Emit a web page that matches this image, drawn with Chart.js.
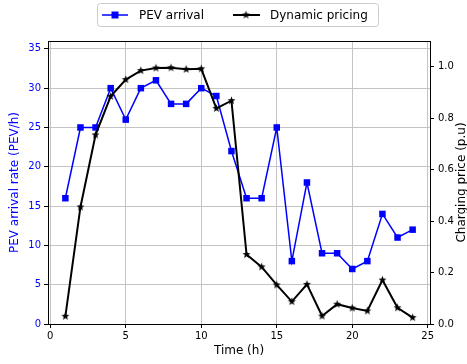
<!DOCTYPE html>
<html>
<head>
<meta charset="utf-8">
<script src="https://cdn.jsdelivr.net/npm/chart.js@4/dist/chart.umd.min.js"></script>
<style>
  html, body { margin: 0; padding: 0; background: #fff; }
  #wrap { width: 467px; height: 364px; position: relative; }
</style>
</head>
<body>
<div id="wrap"><canvas id="chart"></canvas></div>
<script>
// data
const hours = [1, 2, 3, 4, 5, 6, 7, 8, 9, 10, 11, 12, 13, 14, 15, 16, 17, 18, 19, 20, 21, 22, 23, 24];
const arrivals = [16, 25, 25, 30, 26, 30, 31, 28, 28, 30, 29, 22, 16, 16, 25, 8, 18, 9, 9, 7, 8, 14, 11, 12];
const prices = [0.03, 0.455, 0.735, 0.885, 0.95, 0.985, 0.995, 0.996, 0.99, 0.992, 0.838, 0.868, 0.27, 0.222, 0.152, 0.087, 0.154, 0.031, 0.077, 0.062, 0.051, 0.171, 0.063, 0.025];

const xTicks = [0, 5, 10, 15, 20, 25];
const arrivalTicks = [0, 5, 10, 15, 20, 25, 30, 35];
const priceTicks = [0, 0.2, 0.4, 0.6, 0.8, 1.0];

Chart.defaults.font.family = '"DejaVu Sans", sans-serif';
Chart.defaults.font.size = 10;
Chart.defaults.color = '#000';

const GRID = '#c4c4c4';

// matplotlib-like filled star marker
function makeStar(r, color) {
  const c = document.createElement('canvas');
  const s = Math.ceil(r * 2 + 2);
  c.width = s; c.height = s;
  const g = c.getContext('2d');
  g.translate(s / 2, s / 2);
  g.beginPath();
  for (let i = 0; i < 10; i++) {
    const rad = i % 2 === 0 ? r : r * 0.42;
    const a = -Math.PI / 2 + i * Math.PI / 5;
    g.lineTo(rad * Math.cos(a), rad * Math.sin(a));
  }
  g.closePath();
  g.fillStyle = color;
  g.fill();
  return c;
}
const star = makeStar(4.2, '#000');

const setTicks = list => scale => { scale.ticks = list.map(v => ({ value: v })); };

// legend box, top spine and right-hand axis title
const decor = {
  id: 'decor',
  afterDraw(chart) {
    const ctx = chart.ctx;
    const a = chart.chartArea;
    ctx.save();
    // top spine
    ctx.strokeStyle = '#000';
    ctx.lineWidth = 1;
    ctx.beginPath();
    ctx.moveTo(a.left, a.top + 0.5);
    ctx.lineTo(a.right, a.top + 0.5);
    ctx.stroke();

    // right axis title, reads bottom to top
    ctx.font = '12px "DejaVu Sans", sans-serif';
    ctx.fillStyle = '#000';
    ctx.textAlign = 'center';
    ctx.textBaseline = 'alphabetic';
    ctx.translate(465, (a.top + a.bottom) / 2);
    ctx.rotate(-Math.PI / 2);
    ctx.fillText('Charging price (p.u)', 0, 0);
    ctx.restore();

    // legend
    ctx.save();
    const bx = 97.5, by = 3.5, bw = 281, bh = 23, rr = 3;
    ctx.beginPath();
    ctx.moveTo(bx + rr, by);
    ctx.arcTo(bx + bw, by, bx + bw, by + bh, rr);
    ctx.arcTo(bx + bw, by + bh, bx, by + bh, rr);
    ctx.arcTo(bx, by + bh, bx, by, rr);
    ctx.arcTo(bx, by, bx + bw, by, rr);
    ctx.closePath();
    ctx.fillStyle = 'rgba(255,255,255,0.85)';
    ctx.fill();
    ctx.strokeStyle = '#cccccc';
    ctx.lineWidth = 1;
    ctx.stroke();

    const ly = 15;
    ctx.lineWidth = 1.5;
    ctx.strokeStyle = '#0000ff';
    ctx.beginPath(); ctx.moveTo(102, ly); ctx.lineTo(128, ly); ctx.stroke();
    ctx.fillStyle = '#0000ff';
    ctx.fillRect(115 - 3.5, ly - 3.5, 7, 7);

    ctx.lineWidth = 2;
    ctx.strokeStyle = '#000';
    ctx.beginPath(); ctx.moveTo(233, ly); ctx.lineTo(260, ly); ctx.stroke();
    ctx.drawImage(star, 246 - star.width / 2, ly - star.height / 2);

    ctx.font = '12px "DejaVu Sans", sans-serif';
    ctx.fillStyle = '#000';
    ctx.textAlign = 'left';
    ctx.textBaseline = 'middle';
    ctx.fillText('PEV arrival', 139, ly + 1);
    ctx.fillText('Dynamic pricing', 270, ly + 1);
    ctx.restore();
  }
};

new Chart(document.getElementById('chart'), {
  type: 'line',
  data: {
    datasets: [
      {
        label: 'PEV arrival',
        data: hours.map((h, i) => ({ x: h, y: arrivals[i] })),
        yAxisID: 'y',
        borderColor: '#0000ff',
        backgroundColor: '#0000ff',
        borderWidth: 1.5,
        pointStyle: 'rect',
        pointRadius: 4.6,
        pointBorderWidth: 0,
        pointBackgroundColor: '#0000ff',
        tension: 0,
        order: 2
      },
      {
        label: 'Dynamic pricing',
        data: hours.map((h, i) => ({ x: h, y: prices[i] })),
        yAxisID: 'y1',
        borderColor: '#000',
        backgroundColor: '#000',
        borderWidth: 2,
        pointStyle: star,
        pointRadius: 4,
        tension: 0,
        order: 1
      }
    ]
  },
  options: {
    responsive: true,
    maintainAspectRatio: false,
    animation: false,
    events: [],
    layout: { padding: { top: 41, left: 0, right: 0, bottom: 0 } },
    plugins: { legend: { display: false }, tooltip: { enabled: false } },
    scales: {
      x: {
        type: 'linear',
        min: -0.15,
        max: 25.15,
        afterBuildTicks: setTicks(xTicks),
        afterFit: s => { s.height = 40; },
        grid: { color: GRID, tickColor: '#000', tickLength: 4 },
        border: { color: '#000', width: 1 },
        ticks: { padding: 2, maxRotation: 0, font: { size: 10 }, color: '#000' },
        title: { display: true, text: 'Time (h)', font: { size: 12 }, color: '#000', padding: { top: 0, bottom: 6 } }
      },
      y: {
        position: 'left',
        min: 0,
        max: 36,
        afterBuildTicks: setTicks(arrivalTicks),
        afterFit: s => { s.width = 48; },
        grid: { color: GRID, tickColor: '#000', tickLength: 4 },
        border: { color: '#000', width: 1 },
        ticks: { padding: 3, font: { size: 10 }, color: '#0000ff' },
        title: { display: true, text: 'PEV arrival rate (PEV/h)', font: { size: 12 }, color: '#0000ff', padding: { top: 8, bottom: 0 } }
      },
      y1: {
        position: 'right',
        min: 0,
        max: 1.1,
        afterBuildTicks: setTicks(priceTicks),
        afterFit: s => { s.width = 37; },
        grid: { drawOnChartArea: false, tickColor: '#000', tickLength: 4 },
        border: { color: '#000', width: 1 },
        ticks: { padding: 4, font: { size: 10 }, color: '#000', callback: v => v.toFixed(1) }
      }
    }
  },
  plugins: [decor]
});
</script>
</body>
</html>
